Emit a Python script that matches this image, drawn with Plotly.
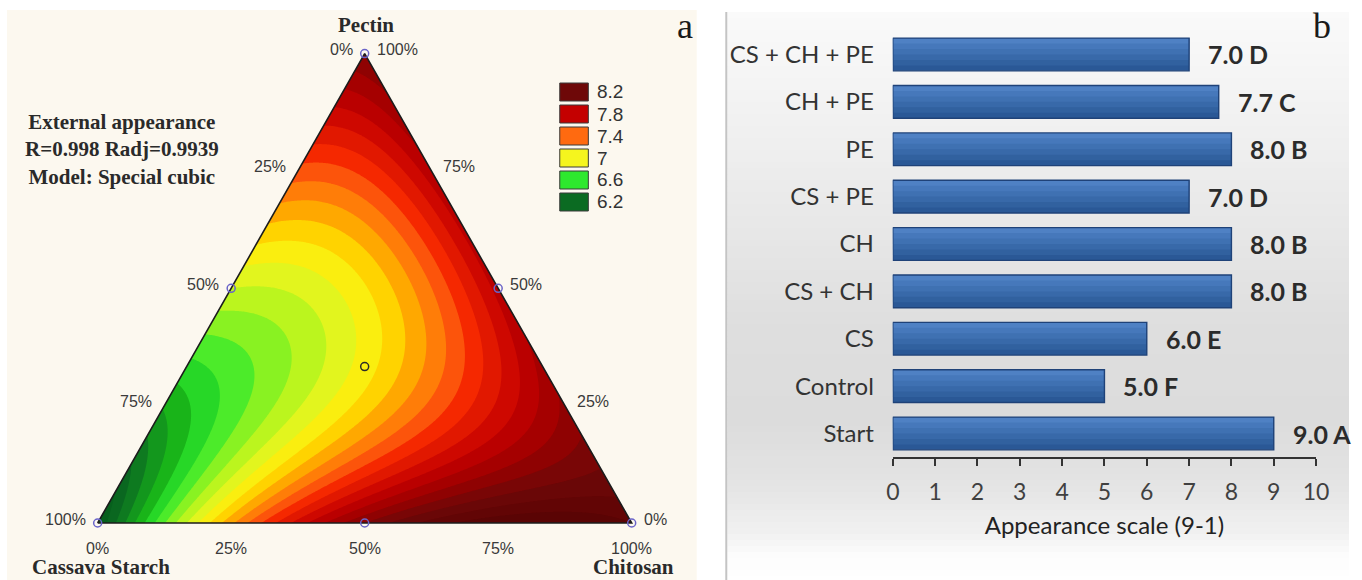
import numpy as np
import plotly.graph_objects as go
from plotly.colors import sample_colorscale

FIG_W, FIG_H = 1362, 580

# ------------------------------------------------------------------
# Panel b: external appearance score per coating treatment
treatments = ["CS + CH + PE", "CH + PE", "PE", "CS + PE", "CH", "CS + CH", "CS", "Control", "Start"]
appearance = [7.0, 7.7, 8.0, 7.0, 8.0, 8.0, 6.0, 5.0, 9.0]
tukey_groups = ["D", "C", "B", "D", "B", "B", "E", "F", "A"]
score_ticks = [0, 1, 2, 3, 4, 5, 6, 7, 8, 9, 10]

# Panel a: simplex-centroid mixture design (cassava starch, chitosan, pectin)
mix_cs = [1.0, 0.0, 0.0, 0.5, 0.5, 0.0, 1 / 3]
mix_ch = [0.0, 1.0, 0.0, 0.5, 0.0, 0.5, 1 / 3]
mix_pe = [0.0, 0.0, 1.0, 0.0, 0.5, 0.5, 1 / 3]
mix_response = [6.0, 8.4, 8.1, 8.1, 6.9, 7.85, 7.05]
legend_levels = [8.2, 7.8, 7.4, 7.0, 6.6, 6.2]
edge_fracs = [0.0, 0.25, 0.5, 0.75, 1.0]

# colour ramp of the response surface (value -> colour)
ramp_values = [5.75, 6.2, 6.45, 6.6, 6.8, 7.0, 7.1, 7.2, 7.3, 7.4, 7.55, 7.8, 8.0, 8.2, 8.65]
ramp_colors = ["#004a12", "#0b6b22", "#19b419", "#2ee82e", "#a8f51e", "#f5f51e", "#ffe600",
               "#ffbf00", "#ff9000", "#ff6a10", "#f52800", "#c40000", "#9a0000", "#6e0808",
               "#4a0000"]

# vertical shading of the bars, bottom -> top
bar_shades = ["#2a5896", "#31619f", "#3869a9", "#3f71b2", "#4678bb", "#4f81c4"]

CREAM = "#fcf8ef"
SERIF = "Liberation Serif"
SANS = "Liberation Sans"
CAL = "Lato"


def fx(px):
    return px / FIG_W


def fy(py):
    return 1 - py / FIG_H


# ------------------------------------------------------------------
# ternary geometry (unit-side triangle drawn on a cartesian pair of axes)
SQ3 = np.sqrt(3) / 2
TRI_X0, TRI_Y0, TRI_SIDE, PANEL_A_W = 92.0, 523.0, 542.0, 700.0


def to_xy(cs, ch, pe):
    return np.asarray(ch) + 0.5 * np.asarray(pe), SQ3 * np.asarray(pe)


# special cubic model from the seven design responses
y1, y2, y3, y12, y13, y23, y123 = mix_response
b12 = 4 * y12 - 2 * (y1 + y2)
b13 = 4 * y13 - 2 * (y1 + y3)
b23 = 4 * y23 - 2 * (y2 + y3)
b123 = 27 * y123 - 12 * (y12 + y13 + y23) + 3 * (y1 + y2 + y3)

gx = np.linspace(0, 1, 401)
gy = np.linspace(0, SQ3, 348)
GX, GY = np.meshgrid(gx, gy)
PE = GY / SQ3
CH = GX - 0.5 * PE
CS = 1 - CH - PE
Z = (y1 * CS + y2 * CH + y3 * PE + b12 * CS * CH + b13 * CS * PE + b23 * CH * PE
     + b123 * CS * CH * PE)

VMIN, VMAX = ramp_values[0], ramp_values[-1]
colorscale = [[(v - VMIN) / (VMAX - VMIN), c] for v, c in zip(ramp_values, ramp_colors)]

fig = go.Figure()

fig.add_trace(go.Contour(
    x=gx, y=gy, z=Z, xaxis="x2", yaxis="y2",
    colorscale=colorscale, autocontour=False,
    contours=dict(start=VMIN + 0.05, end=VMAX - 0.05, size=0.1, coloring="fill", showlines=False),
    line=dict(width=0), showscale=False, hoverinfo="skip",
))

# cover the parts of the grid that fall outside the simplex
pad = 0.03
fig.add_trace(go.Scatter(
    x=[-pad, 0, 0.5, 0.5, -pad, -pad], y=[-pad, 0, SQ3, SQ3 + pad, SQ3 + pad, -pad],
    xaxis="x2", yaxis="y2", mode="lines", fill="toself", fillcolor=CREAM,
    line=dict(width=0), hoverinfo="skip", showlegend=False,
))
fig.add_trace(go.Scatter(
    x=[1 + pad, 1, 0.5, 0.5, 1 + pad, 1 + pad], y=[-pad, 0, SQ3, SQ3 + pad, SQ3 + pad, -pad],
    xaxis="x2", yaxis="y2", mode="lines", fill="toself", fillcolor=CREAM,
    line=dict(width=0), hoverinfo="skip", showlegend=False,
))
# triangle outline
vx, vy = to_xy([1, 0, 0, 1], [0, 1, 0, 0], [0, 0, 1, 0])
fig.add_trace(go.Scatter(
    x=vx, y=vy, xaxis="x2", yaxis="y2", mode="lines",
    line=dict(color="#1c1c1c", width=1.6), hoverinfo="skip", showlegend=False,
))
# design points
mx, my = to_xy(mix_cs, mix_ch, mix_pe)
pt_colors = ["#6a64c8"] * 6 + ["#2a2a2a"]
fig.add_trace(go.Scatter(
    x=mx, y=my, xaxis="x2", yaxis="y2", mode="markers",
    marker=dict(symbol="circle-open", size=8, color=pt_colors, line=dict(width=1.5)),
    hoverinfo="skip", showlegend=False,
))

# ------------------------------------------------------------------
# panel b bars: successively lighter layers, each reaching the top edge, then an outline
BAR_W = 0.69
step = BAR_W / len(bar_shades)
for k, shade in enumerate(bar_shades):
    fig.add_trace(go.Bar(
        y=treatments, x=appearance, orientation="h", width=BAR_W - k * step,
        offset=-BAR_W / 2 + k * step, marker=dict(color=shade, line=dict(width=0)),
        hoverinfo="skip", showlegend=False,
    ))
fig.add_trace(go.Bar(
    y=treatments, x=appearance, orientation="h", width=BAR_W, offset=-BAR_W / 2,
    marker=dict(color="rgba(0,0,0,0)", line=dict(color="#1f4278", width=1.4)),
    hoverinfo="skip", showlegend=False,
))

annotations = []
for t, v, g in zip(treatments, appearance, tukey_groups):
    annotations.append(dict(
        x=v, y=t, xref="x", yref="y", text=f"{v:.1f} {g}", showarrow=False,
        xanchor="left", yanchor="middle", xshift=17,
        font=dict(family=CAL, size=25, color="#2b2b2b", weight="bold"),
    ))

# ternary edge labels
tick_font = dict(family=SANS, size=16, color="#3a3a3a")
for f in edge_fracs:
    lx, ly = to_xy(1 - f, 0, f)
    annotations.append(dict(x=float(lx), y=float(ly), xref="x2", yref="y2", showarrow=False,
                            text=f"{round((1 - f) * 100)}%", xanchor="right", yanchor="middle",
                            xshift=-10, yshift=4, font=tick_font))
    rx, ry = to_xy(0, 1 - f, f)
    annotations.append(dict(x=float(rx), y=float(ry), xref="x2", yref="y2", showarrow=False,
                            text=f"{round(f * 100)}%", xanchor="left", yanchor="middle",
                            xshift=10, yshift=4, font=tick_font))
    bx, by = to_xy(1 - f, f, 0)
    annotations.append(dict(x=float(bx), y=float(by), xref="x2", yref="y2", showarrow=False,
                            text=f"{round(f * 100)}%", xanchor="center", yanchor="middle",
                            yshift=-25, font=tick_font))

title_font = dict(family=SERIF, size=21, color="#2a2a2a", weight="bold")
for name, comp, dx, dy in [("Pectin", (0, 0, 1), 1, 29),
                           ("Cassava Starch", (1, 0, 0), 3, -44),
                           ("Chitosan", (0, 1, 0), 2, -44)]:
    tx, ty = to_xy(*comp)
    annotations.append(dict(x=float(tx), y=float(ty), xref="x2", yref="y2", showarrow=False,
                            text=name, xanchor="center", yanchor="middle",
                            xshift=dx, yshift=dy, font=title_font))

annotations.append(dict(
    x=fx(117), y=fy(149), xref="paper", yref="paper", showarrow=False,
    xanchor="center", yanchor="middle",
    text="External appearance<br>R=0.998 Radj=0.9939<br>Model: Special cubic",
    align="center", font=dict(family=SERIF, size=21, color="#2a2a2a", weight="bold"),
))

# contour legend
shapes = []
legend_cols = sample_colorscale(colorscale, [(v - VMIN) / (VMAX - VMIN) for v in legend_levels])
for i, (lvl, col) in enumerate(zip(legend_levels, legend_cols)):
    top = 83 + 22 * i
    shapes.append(dict(type="rect", xref="paper", yref="paper", x0=fx(561), x1=fx(590),
                       y0=fy(top + 18), y1=fy(top), fillcolor=col,
                       line=dict(color="#3a3a3a", width=1), layer="above"))
    annotations.append(dict(x=fx(597), y=fy(top + 9), xref="paper", yref="paper",
                            showarrow=False, text=f"{lvl:g}", xanchor="left", yanchor="middle",
                            font=dict(family=SANS, size=19, color="#333333")))

# panel letters
annotations.append(dict(x=fx(688), y=fy(26), xref="paper", yref="paper", showarrow=False,
                        xanchor="center", yanchor="middle",
                        text="a", font=dict(family=SERIF, size=36, color="#1a1a1a")))
annotations.append(dict(x=fx(1335), y=fy(26), xref="paper", yref="paper", showarrow=False,
                        xanchor="center", yanchor="middle",
                        text="b", font=dict(family=SERIF, size=36, color="#1a1a1a")))

# panel backgrounds
bg = [dict(type="rect", xref="paper", yref="paper", x0=0, x1=fx(PANEL_A_W), y0=0, y1=fy(10),
           fillcolor=CREAM, line=dict(width=0), layer="below")]
band_py = np.arange(12, 580, 6)
g_stops_py = [12, 60, 200, 330, 420, 480, 530, 556, 580]
g_stops_val = [250, 246, 234, 222, 220, 227, 240, 252, 255]
for top in band_py:
    g = int(round(np.interp(top + 3, g_stops_py, g_stops_val)))
    bg.append(dict(type="rect", xref="paper", yref="paper", x0=fx(731), x1=1,
                   y0=fy(min(top + 6.5, 580)), y1=fy(top), fillcolor=f"rgb({g},{g},{g})",
                   line=dict(width=0), layer="below"))
bg.append(dict(type="line", xref="paper", yref="paper", x0=fx(730), x1=fx(730), y0=0, y1=fy(12),
               line=dict(color="#c4c4c4", width=2), layer="below"))

fig.update_layout(
    width=FIG_W, height=FIG_H, autosize=False, margin=dict(l=0, r=0, t=0, b=0),
    paper_bgcolor="white", plot_bgcolor="rgba(0,0,0,0)", showlegend=False,
    barmode="overlay", annotations=annotations, shapes=bg + shapes,
    xaxis=dict(domain=[fx(899), fx(1328.6)], range=[0, 10], tickvals=score_ticks,
               showgrid=False, zeroline=False, showline=True, linecolor="#333333", linewidth=1.5,
               ticks="outside", ticklen=7, tickwidth=1.5, tickcolor="#333333",
               tickfont=dict(family=CAL, size=23, color="#404040"), ticklabelstandoff=6,
               title=dict(text="Appearance scale (9-1)", standoff=14,
                          font=dict(family=CAL, size=24, color="#222222")),
               anchor="y", fixedrange=True),
    yaxis=dict(domain=[fy(457.2), fy(30.8)], range=[-0.5, 8.5], type="category",
               categoryorder="array", categoryarray=treatments[::-1],
               showgrid=False, zeroline=False, showline=False, ticks="",
               tickfont=dict(family=CAL, size=24, color="#333333"), ticklabelstandoff=18,
               anchor="x", fixedrange=True),
    xaxis2=dict(domain=[0, fx(PANEL_A_W)],
                range=[(0 - TRI_X0) / TRI_SIDE, (PANEL_A_W - TRI_X0) / TRI_SIDE],
                visible=False, anchor="y2", fixedrange=True),
    yaxis2=dict(domain=[0, 1], range=[(TRI_Y0 - FIG_H) / TRI_SIDE, TRI_Y0 / TRI_SIDE],
                visible=False, anchor="x2", fixedrange=True),
)

fig.write_html("out.html", config={"displayModeBar": False})
